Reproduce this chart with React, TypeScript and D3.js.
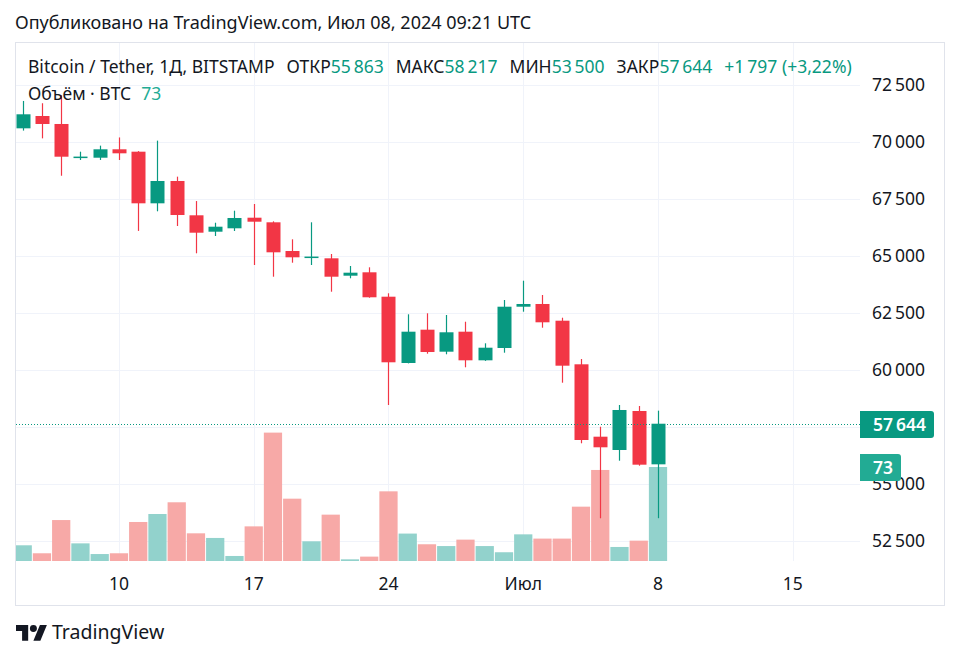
import * as d3 from 'd3'

// дневные свечи BTC/USDT (BITSTAMP), 5 июня – 8 июля 2024
const DATES = [
  '2024-06-05','2024-06-06','2024-06-07','2024-06-08','2024-06-09','2024-06-10','2024-06-11',
  '2024-06-12','2024-06-13','2024-06-14','2024-06-15','2024-06-16','2024-06-17','2024-06-18',
  '2024-06-19','2024-06-20','2024-06-21','2024-06-22','2024-06-23','2024-06-24','2024-06-25',
  '2024-06-26','2024-06-27','2024-06-28','2024-06-29','2024-06-30','2024-07-01','2024-07-02',
  '2024-07-03','2024-07-04','2024-07-05','2024-07-06','2024-07-07','2024-07-08',
]
const OPEN = [
  70600, 71140, 70790, 69330, 69311, 69680, 69575, 67311, 68290, 66785, 66066, 66215, 66680, 66478,
  65219, 64940, 64899, 64136, 64285, 63215, 60307, 61768, 60803, 61680, 60425, 60965, 62776, 62895,
  62162, 60250, 57075, 56491, 58202, 55863,
]
const HIGH = [
  71800, 71700, 72050, 69575, 69840, 70200, 69600, 70060, 68480, 67410, 66460, 66987, 67281, 66520,
  65732, 66478, 65088, 64561, 64504, 63364, 62443, 62487, 62412, 62118, 61171, 63070, 63917, 63290,
  62294, 60482, 57513, 58465, 58421, 58217,
]
const LOW = [
  70500, 70160, 68520, 69210, 69210, 69210, 66100, 66960, 66316, 65118, 65877, 66097, 64605, 64092,
  64706, 64605, 63434, 64022, 63170, 58465, 60290, 60715, 60689, 60118, 60400, 60759, 62557, 61855,
  59443, 56785, 53496, 56022, 55803, 53500,
]
const CLOSE = [
  71215, 70790, 69355, 69360, 69680, 69504, 67311, 68290, 66798, 66022, 66285, 66667, 66504, 65162,
  64943, 64975, 64092, 64268, 63189, 60338, 61680, 60789, 61654, 60425, 60978, 62776, 62895, 62092,
  60189, 56930, 56610, 58246, 55847, 57644,
]
const VOLUME = [
  12.2, 6.0, 31.8, 13.7, 5.4, 6.0, 30.3, 36.5, 45.6, 21.5, 17.9, 3.9, 26.9, 99.7,
  48.4, 15.3, 36.0, 1.3, 3.4, 54.1, 21.3, 13.0, 11.6, 16.6, 11.6, 6.8, 20.7, 17.4,
  17.4, 42.2, 70.7, 10.9, 15.8, 73,
]

const TIME_TICKS = ['2024-06-10','2024-06-17','2024-06-24','2024-07-01','2024-07-08','2024-07-15']
const TIME_LABELS = ['10', '17', '24', 'Июл', '8', '15']
const PRICE_TICKS = [52500, 55000, 57500, 60000, 62500, 65000, 67500, 70000, 72500]
const HIDDEN_PRICE_LABELS = [57500] // перекрыта меткой текущей цены

const UP = '#089981'
const DOWN = '#f23645'
const VOL_UP = '#92d2cc'
const VOL_DOWN = '#f7a9a7'
const TEXT = '#131722'
const GRID = '#f0f3fa'
const FONT = '"Noto Sans", sans-serif'
const FS = 17.5

const locale = d3.formatLocale({ decimal: ',', thousands: '\u202F', grouping: [3], currency: ['', ''] })
const fmtInt = locale.format(',d')
const fmtSigned = locale.format('+,d')
const fmtPct = locale.format('+.2f')

const parse = (s: string) => new Date(s + 'T00:00:00Z')

export default function App() {
  const W = 960, H = 660
  const pane = { left: 16, top: 43, right: 860, bottom: 561, outerRight: 944, outerBottom: 605 }

  const x = d3.scaleUtc()
    .domain([parse(DATES[0]), parse(DATES[DATES.length - 1])])
    .range([22.7, 658])
  const day = (x(parse(DATES[1])) - x(parse(DATES[0])))
  const y = d3.scaleLinear().domain([52500, 72500]).range([541, 85])
  const v = d3.scaleLinear().domain([0, 73]).range([pane.bottom, 467])

  const candles = DATES.map((d, i) => ({
    date: parse(d), o: OPEN[i], h: HIGH[i], l: LOW[i], c: CLOSE[i], vol: VOLUME[i],
  }))
  const last = candles[candles.length - 1]
  const prev = candles[candles.length - 2]
  const change = last.c - prev.c
  const changePct = (change / prev.c) * 100

  const bodyW = 14
  const volW = day - 1

  return (
    <div style={{ position: 'absolute', left: 0, top: 0 }}>
      <svg width={W} height={H} viewBox={`0 0 ${W} ${H}`} style={{ display: 'block', background: '#fff' }} fontFamily={FONT}>
        <defs>
          <clipPath id="plot">
            <rect x={pane.left} y={pane.top} width={pane.right - pane.left} height={pane.bottom - pane.top} />
          </clipPath>
        </defs>

        <text x={15} y={29} fontSize={18} fill={TEXT}>Опубликовано на TradingView.com, Июл 08, 2024 09:21 UTC</text>

        <rect x={pane.left - 0.5} y={pane.top - 0.5} width={pane.outerRight - pane.left + 1} height={pane.outerBottom - pane.top + 1}
          fill="#fff" stroke="#e0e3eb" />

        {/* сетка */}
        <g>
          {PRICE_TICKS.map(t => (
            <line key={t} x1={pane.left} x2={pane.right} y1={Math.round(y(t)) + 0.5} y2={Math.round(y(t)) + 0.5} stroke={GRID} />
          ))}
          {TIME_TICKS.map(t => (
            <line key={t} x1={Math.round(x(parse(t))) + 0.5} x2={Math.round(x(parse(t))) + 0.5} y1={pane.top} y2={pane.bottom} stroke={GRID} />
          ))}
        </g>

        <g clipPath="url(#plot)">
          {/* объём */}
          {candles.map((d, i) => (
            <rect key={'v' + i} x={x(d.date) - volW / 2} y={v(d.vol)} width={volW} height={v(0) - v(d.vol)}
              fill={d.c >= d.o ? VOL_UP : VOL_DOWN} />
          ))}
          {/* свечи */}
          {candles.map((d, i) => {
            const col = d.c >= d.o ? UP : DOWN
            const cx = Math.round(x(d.date))
            const top = y(Math.max(d.o, d.c))
            const bot = y(Math.min(d.o, d.c))
            return (
              <g key={'c' + i}>
                <line x1={cx + 0.5} x2={cx + 0.5} y1={y(d.h)} y2={y(d.l)} stroke={col} strokeWidth={1.2} />
                <rect x={cx + 0.5 - bodyW / 2} y={top} width={bodyW} height={Math.max(1.5, bot - top)} fill={col} />
              </g>
            )
          })}
          {/* линия текущей цены */}
          <line x1={pane.left} x2={pane.right} y1={Math.round(y(last.c)) + 0.5} y2={Math.round(y(last.c)) + 0.5}
            stroke={UP} strokeDasharray="1 2" />
        </g>

        {/* легенда */}
        <text x={28} y={73} fontSize={FS} fill={TEXT}>
          <tspan>Bitcoin / Tether, 1Д, BITSTAMP</tspan>
          <tspan dx={12}>ОТКР</tspan><tspan fill={UP}>{fmtInt(last.o)}</tspan>
          <tspan dx={12}>МАКС</tspan><tspan fill={UP}>{fmtInt(last.h)}</tspan>
          <tspan dx={12}>МИН</tspan><tspan fill={UP}>{fmtInt(last.l)}</tspan>
          <tspan dx={12}>ЗАКР</tspan><tspan fill={UP}>{fmtInt(last.c)}</tspan>
          <tspan dx={12} fill={UP}>{fmtSigned(Math.round(change))} ({fmtPct(changePct)}%)</tspan>
        </text>
        <text x={28} y={100} fontSize={FS} fill={TEXT}>
          <tspan>Объём · BTC</tspan>
          <tspan dx={10} fill="#22ab94">{fmtInt(last.vol)}</tspan>
        </text>

        {/* ось времени */}
        {TIME_TICKS.map((t, i) => (
          <text key={t} x={x(parse(t))} y={590} fontSize={FS} fill={TEXT} textAnchor="middle">{TIME_LABELS[i]}</text>
        ))}

        {/* ось цены */}
        {PRICE_TICKS.filter(t => !HIDDEN_PRICE_LABELS.includes(t)).map(t => (
          <text key={t} x={872} y={y(t)} dy="0.35em" fontSize={FS} fill={TEXT}>{fmtInt(t)}</text>
        ))}

        {/* метки последних значений */}
        <path d={`M860,411 H931 a3,3 0 0 1 3,3 V435 a3,3 0 0 1 -3,3 H860 Z`} fill={UP} />
        <text x={873} y={424.5} dy="0.35em" fontSize={FS} fill="#fff" fontWeight={600}>{fmtInt(last.c)}</text>
        <path d={`M860,454 H898 a3,3 0 0 1 3,3 V478 a3,3 0 0 1 -3,3 H860 Z`} fill="#22ab94" />
        <text x={873} y={467.5} dy="0.35em" fontSize={FS} fill="#fff" fontWeight={600}>{fmtInt(last.vol)}</text>

        {/* логотип */}
        <g transform="translate(16,621.5) scale(0.87)" fill={TEXT}>
          <path d="M14 22H7V11H0V4h14v18zM28 22h-8l7.5-18h8L28 22z" />
          <circle cx={20} cy={8} r={4} />
        </g>
        <text x={52} y={638.5} fontSize={19.5} fill={TEXT}>TradingView</text>
      </svg>
    </div>
  )
}
